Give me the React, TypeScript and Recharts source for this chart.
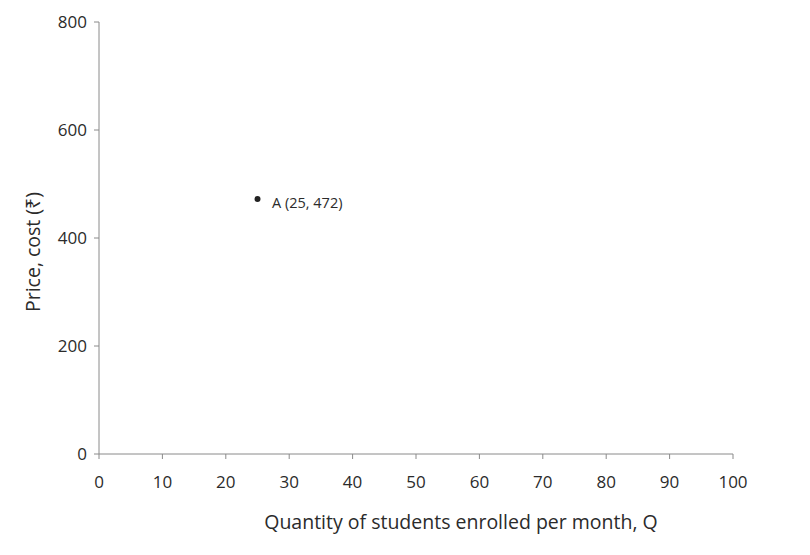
import { ScatterChart, Scatter, XAxis, YAxis, LabelList } from "recharts";

const quantities = [25];
const prices = [472];
const pointLabels = ["A (25, 472)"];
const xTicks = [0, 10, 20, 30, 40, 50, 60, 70, 80, 90, 100];
const yTicks = [0, 200, 400, 600, 800];

const xTitle = "Quantity of students enrolled per month, Q";
const yTitle = "Price, cost (₹)";

const font = "'Open Sans', 'Noto Sans', 'DejaVu Sans', sans-serif";
const textColor = "#2b2b2b";
const axisColor = "#8a8a8a";

const points = quantities.map((q, i) => ({ q, p: prices[i], label: pointLabels[i] }));

function XTitle({ viewBox }: any) {
  const cx = viewBox.x + viewBox.width / 2 + 45;
  return (
    <text x={cx} y={529} textAnchor="middle" fill={textColor} fontSize={19.5} fontFamily={font}>
      {xTitle}
    </text>
  );
}

function YTitle({ viewBox }: any) {
  const cy = viewBox.y + viewBox.height / 2 + 14;
  return (
    <text
      x={32}
      y={cy}
      transform={`rotate(-90, 32, ${cy})`}
      textAnchor="middle"
      dominantBaseline="central"
      fill={textColor}
      fontSize={19.5}
      fontFamily={font}
    >
      {yTitle}
    </text>
  );
}

export default function App() {
  return (
    <div style={{ position: "absolute", left: 0, top: 0, background: "#fff" }}>
      <ScatterChart width={810} height={555} margin={{ top: 22, right: 77, bottom: 21, left: 0 }}>
        <XAxis
          type="number"
          dataKey="q"
          domain={[0, 100]}
          ticks={xTicks}
          tickSize={5}
          tickMargin={17}
          stroke={axisColor}
          tick={{ fill: textColor, fontSize: 17, fontFamily: font }}
          height={80}
          label={<XTitle />}
        />
        <YAxis
          type="number"
          dataKey="p"
          domain={[0, 800]}
          ticks={yTicks}
          tickSize={5}
          tickMargin={7}
          stroke={axisColor}
          tick={{ fill: textColor, fontSize: 17, fontFamily: font }}
          width={99}
          label={<YTitle />}
        />
        <Scatter data={points} fill="#222" isAnimationActive={false} shape={(props: any) => (
          <circle cx={props.cx} cy={props.cy} r={3} fill="#222" />
        )}>
          <LabelList
            dataKey="label"
            content={(props: any) => (
              <text
                x={props.x + 19}
                y={props.y + 8}
                dominantBaseline="central"
                fill={textColor}
                fontSize={14.5}
                fontFamily={font}
              >
                {props.value}
              </text>
            )}
          />
        </Scatter>
      </ScatterChart>
    </div>
  );
}
